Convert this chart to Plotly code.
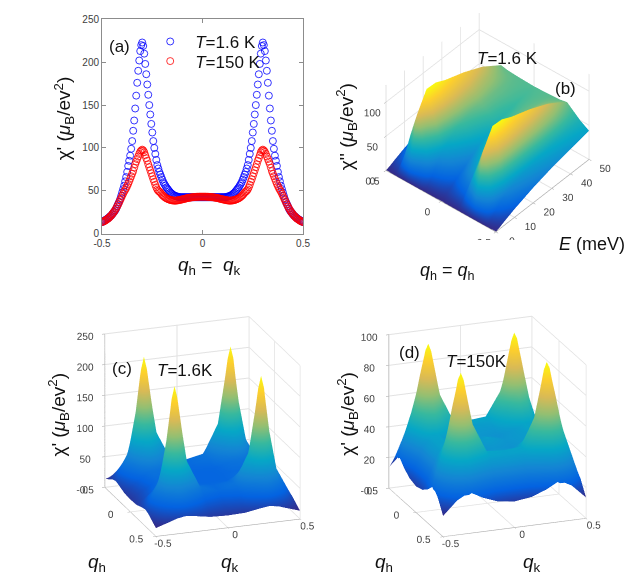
import numpy as np
import plotly.graph_objects as go

# ---- panel (a): chi' along q_h = q_k ----
q_a = np.linspace(-0.5, 0.5, 201)
chi_low = ([13.5, 14, 15, 15.5, 16.5, 17, 18, 19, 20, 21,
            22.5, 24, 25.5, 27, 29, 32, 34.5, 37, 40, 44,
            48, 52, 56, 61, 66, 72, 79, 85, 91, 99,
            108, 120, 132, 146, 161, 176, 190, 202, 213, 220,
            223, 219, 210, 198, 186, 174, 162, 150, 139, 128,
            118, 108, 100, 93, 86, 80, 76, 72, 69, 66,
            63, 60, 58, 56, 54, 52.5, 51, 49.5, 48, 47,
            46, 45, 44.5, 44, 43.5, 43, 43, 42.5, 42.5, 42.5]
           + [42.5] * 41 +
           [42.5, 42.5, 42.5, 43, 43, 43.5, 44, 44.5, 45, 46,
            47, 48, 49.5, 51, 52.5, 54, 56, 58, 60, 63,
            66, 69, 72, 76, 80, 86, 93, 100, 108, 118,
            128, 139, 150, 162, 174, 186, 198, 210, 219, 223,
            220, 213, 202, 190, 176, 161, 146, 132, 120, 108,
            99, 91, 85, 79, 72, 66, 61, 56, 52, 48,
            44, 40, 37, 34.5, 32, 29, 27, 25.5, 24, 22.5,
            21, 20, 19, 18, 17, 16.5, 15.5, 15, 14, 13.5])
chi_high = [13.5, 14, 14.5, 15, 16, 17, 17.5, 18.5, 20, 21,
            22.5, 24, 25.5, 27.5, 29.5, 31.5, 34, 36.5, 39, 41.5,
            44, 46.5, 49, 51, 53, 55.5, 58, 61, 64, 67,
            70, 73, 77, 81, 84, 87, 90, 93, 95.5, 97,
            98, 97, 95, 91.5, 88, 85, 81, 77.5, 74, 70.5,
            67, 63.5, 60.5, 57, 54, 51.5, 50, 49, 48, 46.5,
            45, 44, 43, 42, 41.3, 40.7, 40.2, 39.7, 39.3, 39,
            38.8, 38.6, 38.5, 38.5, 38.6, 38.8, 39, 39.2, 39.5, 39.8,
            40, 40.3, 40.6, 40.9, 41.2, 41.5, 41.7, 41.9, 42.1, 42.3,
            42.5, 42.6, 42.7, 42.8, 42.9, 43, 43, 43.1, 43.1, 43.1,
            43.1,
            43.1, 43.1, 43.1, 43, 43, 42.9, 42.8, 42.7, 42.6, 42.5,
            42.3, 42.1, 41.9, 41.7, 41.5, 41.2, 40.9, 40.6, 40.3, 40,
            39.8, 39.5, 39.2, 39, 38.8, 38.6, 38.5, 38.5, 38.6, 38.8,
            39, 39.3, 39.7, 40.2, 40.7, 41.3, 42, 43, 44, 45,
            46.5, 48, 49, 50, 51.5, 54, 57, 60.5, 63.5, 67,
            70.5, 74, 77.5, 81, 85, 88, 91.5, 95, 97, 98,
            97, 95.5, 93, 90, 87, 84, 81, 77, 73, 70,
            67, 64, 61, 58, 55.5, 53, 51, 49, 46.5, 44,
            41.5, 39, 36.5, 34, 31.5, 29.5, 27.5, 25.5, 24, 22.5,
            21, 20, 18.5, 17.5, 17, 16, 15, 14.5, 14, 13.5]

# ---- panel (b): chi'' vs q_h and E at 1.6 K ----
qh_b = [-0.5, -0.42, -0.36, -0.3, -0.24, -0.15, 0, 0.15, 0.24, 0.3, 0.36, 0.42, 0.5]
E_b = [0, 2, 5, 10, 15, 20, 30, 40, 50]
chi2_b = [[0, 2, 6, 12, 17, 22, 30, 36, 42],
          [0, 6, 15, 28, 34, 38, 44, 48, 50],
          [0, 22, 55, 80, 82, 80, 75, 68, 58],
          [0, 40, 90, 116, 115, 108, 98, 85, 66],
          [0, 20, 55, 85, 90, 90, 85, 76, 64],
          [0, 6, 18, 40, 52, 60, 68, 66, 63],
          [0, 3, 8, 18, 28, 38, 52, 58, 62],
          [0, 6, 18, 40, 52, 60, 68, 66, 63],
          [0, 20, 55, 85, 90, 90, 85, 76, 64],
          [0, 40, 90, 116, 115, 108, 98, 85, 66],
          [0, 22, 55, 80, 82, 80, 75, 68, 58],
          [0, 6, 15, 28, 34, 38, 44, 48, 50],
          [0, 2, 6, 12, 17, 22, 30, 36, 42]]

# ---- panels (c), (d): chi'(q_h, q_k), one quadrant (q >= 0) ----
q_quad = [0, 0.12, 0.22, 0.28, 0.3, 0.32, 0.35, 0.4, 0.5]
chi_c_quad = [[42.5, 43, 46, 46, 46, 46, 41, 34, 20],
              [43, 43, 50, 53, 53, 52, 47, 38, 21],
              [46, 50, 76, 99, 101, 98, 83, 56, 25],
              [46, 53, 99, 186, 203, 187, 133, 70, 27],
              [46, 53, 101, 203, 223, 203, 140, 72, 27],
              [46, 52, 98, 187, 203, 190, 133, 70, 26],
              [41, 47, 83, 133, 140, 133, 108, 61, 25],
              [34, 38, 56, 70, 72, 70, 61, 48, 21],
              [20, 21, 25, 27, 27, 26, 25, 21, 13.5]]
chi_d_quad = [[43, 40, 41, 42, 44, 43, 43, 40, 17],
              [40, 38.7, 41, 43, 45, 44, 44, 39, 18.5],
              [41, 41, 51.5, 62, 64, 62, 59, 47, 22],
              [42, 43, 62, 88, 93, 89, 77, 54, 25],
              [44, 45, 64, 93, 98, 94, 80, 56, 26],
              [43, 44, 62, 89, 94, 90, 78, 55, 25],
              [43, 44, 59, 77, 80, 78, 70, 53, 25],
              [40, 39, 47, 54, 56, 55, 53, 44, 22.5],
              [17, 18.5, 22, 25, 26, 25, 25, 22.5, 13.5]]

# full grid from the quadrant (the map is symmetric in q_h, q_k)
mirror = list(range(len(q_quad) - 1, 0, -1)) + list(range(len(q_quad)))
q_full = [-q_quad[i] for i in mirror[:len(q_quad) - 1]] + q_quad
chi_c = np.array(chi_c_quad)[np.ix_(mirror, mirror)]
chi_d = np.array(chi_d_quad)[np.ix_(mirror, mirror)]

parula = [[0.0, '#352a87'], [0.125, '#0363e1'], [0.25, '#1485d4'],
          [0.375, '#06a7c6'], [0.5, '#38b99e'], [0.625, '#92bf73'],
          [0.75, '#d9ba56'], [0.875, '#fcce2e'], [1.0, '#f9fb0e']]
flat = dict(ambient=1, diffuse=0, specular=0, roughness=1, fresnel=0)
FONT = 'Liberation Sans, Arial, sans-serif'

# figure sized so the page (8 px body margin) is 634x583
W, H, OFF = 618, 567, 8


def px(x0, x1):
    return [(x0 - OFF) / W, (x1 - OFF) / W]


def py(y_top, y_bot):
    return [1 - (y_bot - OFF) / H, 1 - (y_top - OFF) / H]


def X(r):
    # horizontal target pixel -> paper, with the small shift seen on screen
    return ((r - 8.6) / 0.977 - OFF) / W


def Y(r):
    return 1 - (r - OFF) / H


fig = go.Figure()
fig.add_trace(go.Scatter(x=q_a, y=chi_low, mode='markers', name='<i>T</i>=1.6 K',
                         legend='legend',
                         marker=dict(symbol='circle-open', size=7, color='rgb(0,0,255)',
                                     line=dict(width=0.8))))
fig.add_trace(go.Scatter(x=q_a, y=chi_high, mode='markers', name='<i>T</i>=150 K',
                         legend='legend2',
                         marker=dict(symbol='circle-open', size=7, color='rgb(255,0,0)',
                                     line=dict(width=0.8))))
fig.add_trace(go.Surface(x=E_b, y=qh_b, z=chi2_b, colorscale=parula, showscale=False,
                         lighting=flat, scene='scene', showlegend=False))
fig.add_trace(go.Surface(x=q_full, y=q_full, z=chi_c, colorscale=parula, showscale=False,
                         lighting=flat, scene='scene2', showlegend=False))
fig.add_trace(go.Surface(x=q_full, y=q_full, z=chi_d, colorscale=parula, showscale=False,
                         lighting=flat, scene='scene3', showlegend=False))


def ax3(rng, vals, text=None):
    return dict(range=rng, tickvals=vals, ticktext=text, title=dict(text=''),
                showbackground=True, backgroundcolor='white', gridcolor='#e2e2e2',
                showline=True, linecolor='#a0a0a0', zeroline=False, showspikes=False,
                ticks='outside', ticklen=3, tickcolor='#a0a0a0', tickangle=0,
                tickfont=dict(size=11, color='#404040', family=FONT))


qt = [-0.5, 0, 0.5]
qtt = ['-0.5', '0', '0.5']
ortho = dict(type='orthographic')
leg = dict(xanchor='left', yanchor='middle', bgcolor='rgba(0,0,0,0)',
           font=dict(size=17, color='#111111'), itemwidth=40, visible=True)

fig.update_layout(
    width=W, height=H, margin=dict(l=0, r=0, t=0, b=0),
    paper_bgcolor='white', plot_bgcolor='white', showlegend=True,
    font=dict(family=FONT, color='#262626'),
    xaxis=dict(domain=[X(101.7), X(303.3)], range=[-0.5, 0.5], tickvals=qt, ticktext=qtt,
               showline=True, mirror='ticks', linecolor='#8c8c8c', ticks='inside', ticklen=4,
               tickcolor='#8c8c8c', showgrid=False, zeroline=False,
               tickfont=dict(size=10, color='#404040')),
    yaxis=dict(domain=[Y(233), Y(14.5)], range=[0, 250], tickvals=[0, 50, 100, 150, 200, 250],
               showline=True, mirror='ticks', linecolor='#8c8c8c', ticks='inside', ticklen=4,
               tickcolor='#8c8c8c', showgrid=False, zeroline=False,
               tickfont=dict(size=10, color='#404040')),
    legend=dict(leg, x=X(145), y=Y(37.5)),
    legend2=dict(leg, x=X(145), y=Y(57.5)),
    scene=dict(domain=dict(x=px(356, 626), y=py(8, 240)),
               xaxis=ax3([0, 50], [0, 10, 20, 30, 40, 50]),
               yaxis=ax3([-0.5, 0.5], qt, qtt),
               zaxis=ax3([0, 125], [0, 50, 100]),
               aspectmode='manual', aspectratio=dict(x=1.27, y=1.27, z=1.0),
               camera=dict(eye=dict(x=-0.99, y=-0.84, z=1.09),
                           center=dict(x=0, y=0, z=-0.05), projection=ortho)),
    scene2=dict(domain=dict(x=px(69, 329), y=py(300, 560)),
                xaxis=ax3([-0.5, 0.5], qt, qtt),
                yaxis=ax3([-0.5, 0.5], qt, qtt),
                zaxis=ax3([0, 250], [0, 50, 100, 150, 200, 250]),
                aspectmode='manual', aspectratio=dict(x=1.2, y=1.2, z=1.28),
                camera=dict(eye=dict(x=1.33, y=-0.47, z=0.51), projection=ortho)),
    scene3=dict(domain=dict(x=px(361, 621), y=py(300, 560)),
                xaxis=ax3([-0.5, 0.5], qt, qtt),
                yaxis=ax3([-0.5, 0.5], qt, qtt),
                zaxis=ax3([0, 100], [0, 20, 40, 60, 80, 100]),
                aspectmode='manual', aspectratio=dict(x=1.2, y=1.2, z=1.28),
                camera=dict(eye=dict(x=1.32, y=-0.5, z=0.51), projection=ortho)),
)


def note(text, x, y, size=16, angle=0):
    fig.add_annotation(text=text, x=X(x), y=Y(y),
                       xref='paper', yref='paper', xanchor='center', yanchor='middle',
                       showarrow=False, textangle=angle,
                       font=dict(size=size, color='#111111'))


ylab1 = "χ' (<i>μ</i><sub>B</sub>/ev<sup>2</sup>)"
ylab2 = "χ'' (<i>μ</i><sub>B</sub>/ev<sup>2</sup>)"
note('(a)', 119, 42.5, 17)
note('<i>q</i><sub>h</sub> =\u00a0 <i>q</i><sub>k</sub>', 209, 266, 19)
note(ylab1, 64, 115, 19, -90)
note('<i>T</i>=1.6 K', 508, 54, 17)
note('(b)', 567, 85, 17)
note(ylab2, 347, 124, 19, -90)
note('<i>E</i> (meV)', 593, 244, 18)
note('<i>q</i><sub>h</sub> = <i>q</i><sub>h</sub>', 448, 272, 18)
note('(c)', 122, 371, 17)
note('<i>T</i>=1.6K', 185, 373, 17)
note(ylab1, 58, 417, 19, -90)
note('<i>q</i><sub>h</sub>', 97, 569, 19)
note('<i>q</i><sub>k</sub>', 230, 569, 19)
note('(d)', 410, 354, 17)
note('<i>T</i>=150K', 477, 363, 17)
note(ylab1, 347, 417, 19, -90)
note('<i>q</i><sub>h</sub>', 385, 569, 19)
note('<i>q</i><sub>k</sub>', 533, 569, 19)

fig.write_html("out.html")
